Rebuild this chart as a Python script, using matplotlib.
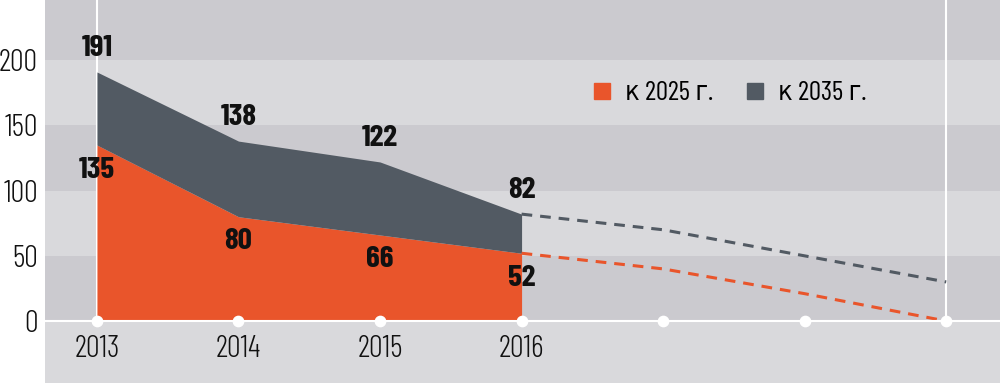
import matplotlib.pyplot as plt
from matplotlib.lines import Line2D

years = ['2013', '2014', '2015', '2016']
k2025 = [135, 80, 66, 52]
k2035 = [191, 138, 122, 82]
# forecast tails, 2016 onwards
k2025_fc = [52, 40, 21, 0]
k2035_fc = [82, 70, 50, 30]
yticks = [0, 50, 100, 150, 200]

orange = '#e9552b'
grey = '#525a63'
band_dark = '#cbcacf'
band_light = '#d9d9dc'

fnt = ['Barlow Condensed', 'DejaVu Sans']

fig = plt.figure(figsize=(10, 3.85), dpi=100)
ax = fig.add_axes([0.045, 2 / 385, 0.955, 383 / 385])
ax.set_facecolor(band_light)

ax.set_xlim(-0.367, 6.38)
ax.set_ylim(-47.5, 246.2)

# stripes
for i, lo in enumerate(range(0, 250, 50)):
    ax.axhspan(lo, lo + 50, color=band_dark if i % 2 == 0 else band_light, lw=0, zorder=0)

x = list(range(len(years)))
x_fc = list(range(len(years) - 1, len(years) - 1 + len(k2025_fc)))

ax.fill_between(x, 0, k2025, color=orange, lw=0, zorder=2)
ax.fill_between(x, k2025, k2035, color=grey, lw=0, zorder=2)

ax.plot(x_fc, k2035_fc, color=grey, lw=2.2, dashes=(3.5, 2.6), zorder=3)
ax.plot(x_fc, k2025_fc, color=orange, lw=2.2, dashes=(3.5, 2.6), zorder=3)

# white frame lines
ax.vlines([x[0], x_fc[-1]], 0, 260, color='white', lw=1.5, zorder=1)
ax.axhline(0, color='white', lw=1.5, zorder=4)
allx = list(range(x_fc[-1] + 1))
ax.scatter(allx, [0] * len(allx), s=55, color='white', zorder=5, clip_on=False)

for xi, v in zip(x, k2035):
    ax.annotate(str(v), (xi, v), xytext=(0, 17), textcoords='offset points',
                ha='center', va='center', fontsize=22.5, fontweight=700,
                family=fnt, color='#111111', zorder=6)
for xi, v in zip(x, k2025):
    ax.annotate(str(v), (xi, v), xytext=(0, -18), textcoords='offset points',
                ha='center', va='center', fontsize=22.5, fontweight=700,
                family=fnt, color='#111111', zorder=6)

for xi, yr in zip(x, years):
    ax.text(xi, -21.5, yr, ha='center', va='center', fontsize=22,
            family=fnt, fontweight=300, color='#111111')

ax.set_xticks([])
ax.set_yticks(yticks)
ax.set_yticklabels([str(t) for t in yticks], family=fnt, fontsize=22, fontweight=300)
ax.tick_params(axis='y', length=0, pad=5, colors='#111111')
for s in ax.spines.values():
    s.set_visible(False)

handles = [Line2D([], [], marker='s', ls='', color=orange, markersize=11.5),
           Line2D([], [], marker='s', ls='', color=grey, markersize=11.5)]
ax.legend(handles, ['к 2025 г.', 'к 2035 г.'], loc='center', bbox_to_anchor=(0.717, 0.757),
          ncol=2, frameon=False, handlelength=0.7, handletextpad=0.5, columnspacing=1.2,
          prop={'family': fnt, 'size': 19.5, 'weight': 400, 'stretch': 'condensed'})

fig.savefig('out.png', dpi=100)
